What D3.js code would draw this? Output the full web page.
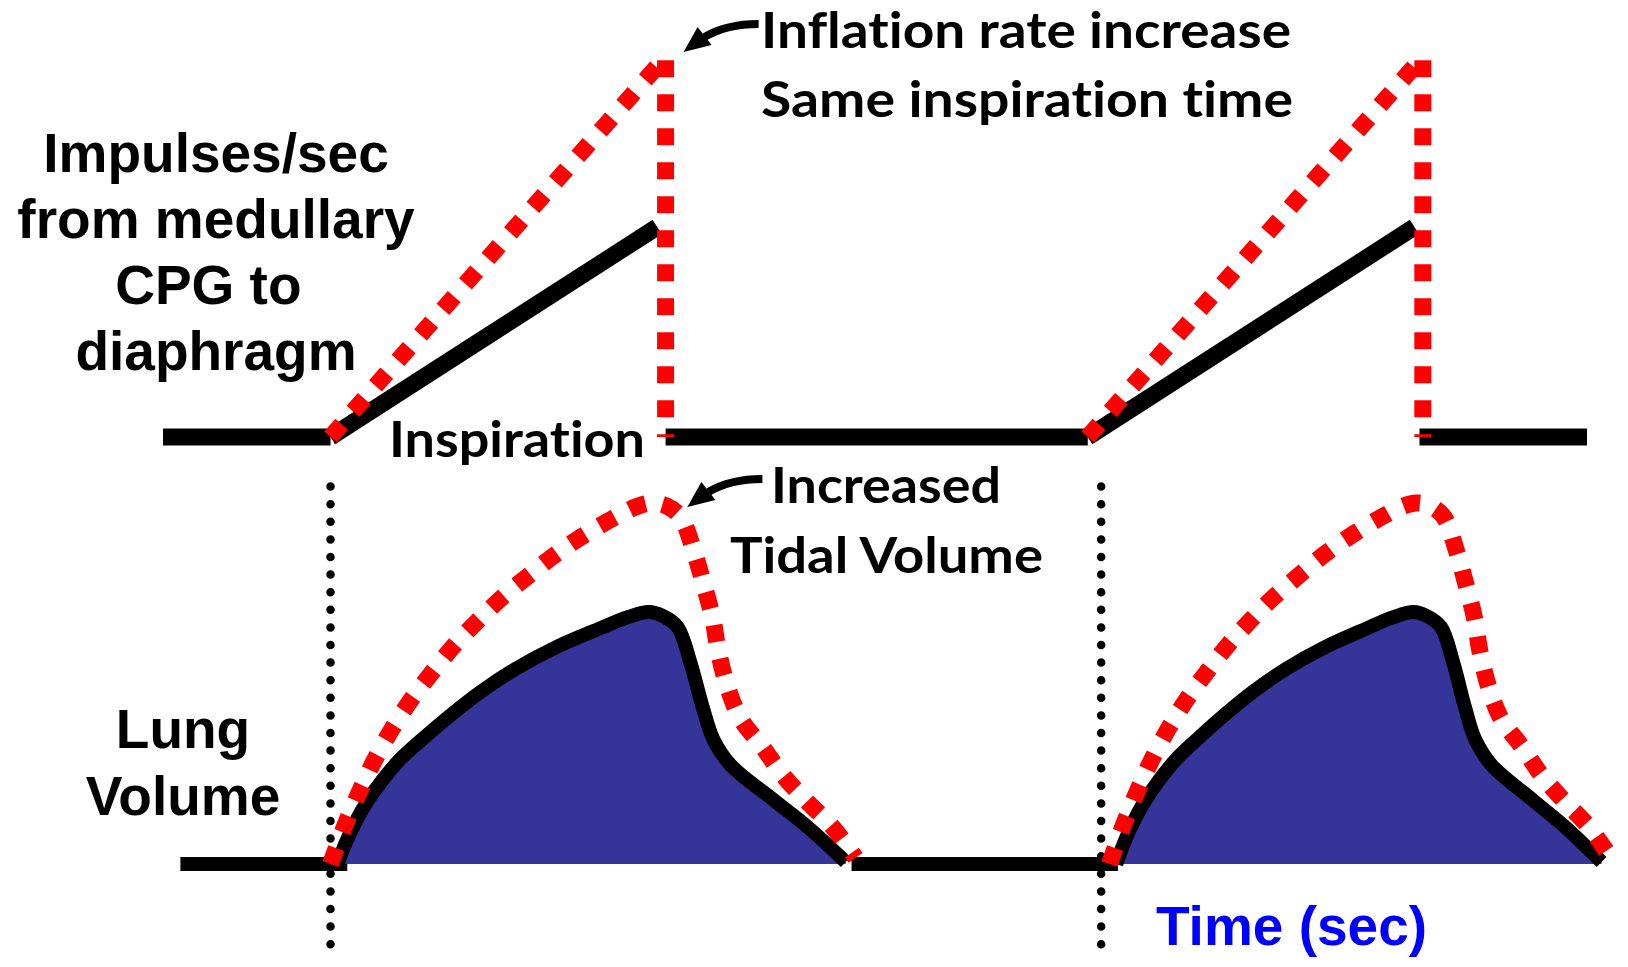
<!DOCTYPE html>
<html>
<head>
<meta charset="utf-8">
<script src="https://cdn.jsdelivr.net/npm/d3@7"></script>
<style>
  html, body { margin: 0; padding: 0; background: #fff; }
  svg { display: block; }
  text { font-variant-ligatures: none; font-feature-settings: "liga" 0, "clig" 0; }
</style>
</head>
<body>
<svg id="chart" width="1628" height="967"></svg>
<script>
// time in sec, inspiration lasts 2 s
const topCycleStarts = [0, 4.52];
const topBaseline = [[-1, 0], [2.0, 4.52], [6.5, 7.5]];
const impulseNormal = [[0, 0], [1.95, 1.0]];
const impulseFast = [[0, 0], [2.0, 1.81], [2.0, 0]];

const volCycles = [{ start: 0, k: 1 }, { start: 4.65, k: 0.955 }];
const volBaseline = [[-0.896, 0.10], [3.11, 4.70]];
const markTimes = [0, 4.6];
const markSpan = [1.48, -0.38];

const volumeNormal = [
  [0.042, 0], [0.090, 0.082], [0.149, 0.165], [0.221, 0.247], [0.310, 0.329],
  [0.418, 0.412], [0.549, 0.490], [0.710, 0.580], [0.896, 0.675], [1.104, 0.765],
  [1.349, 0.851], [1.612, 0.925], [1.779, 0.969], [1.899, 0.988], [1.982, 0.973],
  [2.072, 0.929], [2.149, 0.788], [2.221, 0.616], [2.287, 0.486], [2.388, 0.388],
  [2.645, 0.251], [2.848, 0.145], [3.075, 0.008]
];
const volumeIncreased = [
  [0, 0], [0.066, 0.118], [0.137, 0.231], [0.197, 0.318], [0.263, 0.408],
  [0.370, 0.533], [0.484, 0.647], [0.603, 0.749], [0.746, 0.863], [0.884, 0.957],
  [1.027, 1.047], [1.194, 1.137], [1.355, 1.220], [1.534, 1.298], [1.713, 1.365],
  [1.821, 1.400], [1.916, 1.416], [2.006, 1.404], [2.090, 1.361], [2.167, 1.231],
  [2.227, 1.098], [2.281, 0.965], [2.316, 0.831], [2.370, 0.694], [2.448, 0.569],
  [2.579, 0.459], [2.704, 0.345], [2.848, 0.243], [2.997, 0.145], [3.134, 0.024]
];

const impulseLabel = ["Impulses/sec", "from medullary", "CPG to\u00A0", "diaphragm"];
const volumeLabel = ["Lung", "Volume"];
const rateNote = ["Inflation rate increase", "Same inspiration time"];
const tidalNote = ["Increased", "Tidal Volume"];

const svg = d3.select("#chart");
svg.append("rect").attr("width", 1628).attr("height", 967).attr("fill", "#fff");

const x = d3.scaleLinear().domain([-1, 7.5]).range([163, 1587]);
const yTop = d3.scaleLinear().domain([0, 1]).range([437, 227]);
const yBot = d3.scaleLinear().domain([0, 1]).range([864, 609]);

const calibri = "Lato, 'Open Sans', sans-serif";
const arial = "'Liberation Sans', Arial, sans-serif";
const RED = "#ff0000";

// dotted markers at the start of inspiration
svg.selectAll(".mark").data(markTimes).enter().append("line")
  .attr("x1", d => x(d)).attr("x2", d => x(d))
  .attr("y1", yBot(markSpan[0])).attr("y2", yBot(markSpan[1]))
  .attr("stroke", "#000").attr("stroke-width", 8.5)
  .attr("stroke-linecap", "round").attr("stroke-dasharray", "0 17.6");

// ---- top: impulses ----
const lineTop = d3.line().x(d => x(d[0])).y(d => yTop(d[1]));

svg.selectAll(".topBase").data(topBaseline).enter().append("line")
  .attr("x1", d => x(d[0])).attr("x2", d => x(d[1]))
  .attr("y1", yTop(0)).attr("y2", yTop(0))
  .attr("stroke", "#000").attr("stroke-width", 17);

topCycleStarts.forEach(s => {
  svg.append("path")
    .attr("d", lineTop(impulseNormal.map(p => [p[0] + s, p[1]])))
    .attr("fill", "none").attr("stroke", "#000").attr("stroke-width", 17);
});
topCycleStarts.forEach(s => {
  svg.append("path")
    .attr("d", lineTop(impulseFast.map(p => [p[0] + s, p[1]])))
    .attr("fill", "none").attr("stroke", RED).attr("stroke-width", 17)
    .attr("stroke-dasharray", "17 17");
});

// ---- bottom: lung volume ----
const curve = d3.curveCatmullRom.alpha(0.5);
const lineBot = d3.line().x(d => x(d[0])).y(d => yBot(d[1])).curve(curve);
const areaBot = d3.area().x(d => x(d[0])).y0(yBot(0)).y1(d => yBot(d[1])).curve(curve);

svg.selectAll(".botBase").data(volBaseline).enter().append("line")
  .attr("x1", d => x(d[0])).attr("x2", d => x(d[1]))
  .attr("y1", yBot(0)).attr("y2", yBot(0))
  .attr("stroke", "#000").attr("stroke-width", 14);

volCycles.forEach(c => {
  const pts = volumeNormal.map(p => [c.start + p[0] * c.k, p[1]]);
  svg.append("path").attr("d", areaBot(pts)).attr("fill", "#343499");
  svg.append("path").attr("d", lineBot(pts))
    .attr("fill", "none").attr("stroke", "#000").attr("stroke-width", 14);
});
volCycles.forEach(c => {
  const pts = volumeIncreased.map(p => [c.start + p[0] * c.k, p[1]]);
  svg.append("path").attr("d", lineBot(pts))
    .attr("fill", "none").attr("stroke", RED).attr("stroke-width", 17)
    .attr("stroke-dasharray", "17 17");
});

// ---- arrows ----
function arrow(tx, ty) {
  svg.append("path")
    .attr("d", `M${tx + 75},${ty - 28} Q${tx + 43},${ty - 28} ${tx + 21},${ty - 15}`)
    .attr("fill", "none").attr("stroke", "#000").attr("stroke-width", 8);
  svg.append("path")
    .attr("d", `M${tx},${ty} L${tx + 14},${ty - 25} L${tx + 28},${ty - 7} Z`)
    .attr("fill", "#000");
}
arrow(x(2.0) + 18, yTop(1.81) - 5);
arrow(x(2.13), yBot(1.40));

// ---- labels ----
svg.selectAll(".imp").data(impulseLabel).enter().append("text")
  .attr("x", 216).attr("y", (d, i) => 172 + i * 66)
  .attr("text-anchor", "middle").attr("font-family", arial)
  .attr("font-weight", "bold").attr("font-size", 55).attr("fill", "#000")
  .text(d => d);

svg.selectAll(".vol").data(volumeLabel).enter().append("text")
  .attr("x", 183).attr("y", (d, i) => 748 + i * 67)
  .attr("text-anchor", "middle").attr("font-family", arial)
  .attr("font-weight", "bold").attr("font-size", 55).attr("fill", "#000")
  .text(d => d);

svg.append("text")
  .attr("x", 1156).attr("y", 945).attr("font-family", arial)
  .attr("font-weight", "bold").attr("font-size", 55).attr("fill", "#0000ff")
  .text("Time (sec)");

function note(str, px, py, len) {
  svg.append("text")
    .attr("x", px).attr("y", py).attr("font-family", calibri)
    .attr("font-weight", "bold").attr("font-size", 49).attr("fill", "#000")
    .attr("textLength", len).attr("lengthAdjust", "spacingAndGlyphs")
    .text(str);
}
note(rateNote[0], 761, 48, 530);
note(rateNote[1], 761, 117, 532);
note("Inspiration", 389, 457, 256);
note(tidalNote[0], 771, 503, 230);
note(tidalNote[1], 730, 573, 313);
</script>
</body>
</html>
